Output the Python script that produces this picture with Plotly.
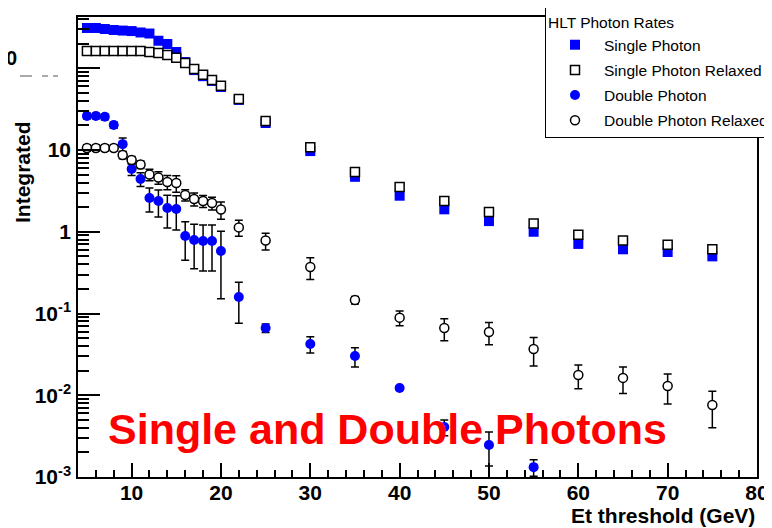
import plotly.graph_objects as go

# ---------------- data ----------------
x_single = [5, 6, 7, 8, 9, 10, 11, 12, 13, 14, 15, 16, 17, 18, 19, 20,
            22, 25, 30, 35, 40, 45, 50, 55, 60, 65, 70, 75]
single_photon = [311, 311, 302, 294, 289, 285, 274, 266, 217, 198, 158, 119, 95, 80, 70, 59,
                 41, 21.4, 9.7, 4.7, 2.76, 1.88, 1.35, 1.0, 0.71, 0.61, 0.565, 0.50]
single_relaxed = [163, 163, 163, 163, 163, 163, 163, 158, 154, 145, 134, 116, 98, 83, 72, 61,
                  42, 22.6, 10.8, 5.4, 3.53, 2.38, 1.74, 1.26, 0.92, 0.78, 0.695, 0.61]

x_double = [5, 6, 7, 8, 9, 10, 11, 12, 13, 14, 15, 16, 17, 18, 19, 20,
            22, 25, 30, 35, 40, 45, 50, 55]
double_photon = [26.1, 26.1, 25.5, 20.2, 11.8, 5.86, 4.42, 2.59, 2.38, 1.95, 1.90, 0.887,
                 0.793, 0.771, 0.771, 0.582, 0.159, 0.0665, 0.0424, 0.0302, 0.01227,
                 0.00409, 0.00246, 0.00132]
double_photon_err = [2.0, 2.0, 2.0, 1.8, 2.2, 1.0, 0.85, 0.85, 0.87, 0.84, 0.85, 0.44,
                     0.44, 0.44, 0.44, 0.43, 0.083, 0.008, 0.0095, 0.008, 0.0006,
                     0.0009, 0.0011, 0.0003]

x_double_relaxed = [5, 6, 7, 8, 9, 10, 11, 12, 13, 14, 15, 16, 17, 18, 19, 20,
                    22, 25, 30, 35, 40, 45, 50, 55, 60, 65, 70, 75]
double_relaxed = [10.6, 10.6, 10.6, 10.6, 8.69, 7.55, 6.65, 5.01, 4.61, 4.06, 3.95, 2.82,
                  2.52, 2.38, 2.25, 1.87, 1.13, 0.78, 0.37, 0.146, 0.089, 0.0665, 0.0594,
                  0.0368, 0.0177, 0.0163, 0.0130, 0.0076]
double_relaxed_err = [0.9, 0.9, 0.9, 0.9, 0.9, 0.8, 0.7, 0.8, 0.8, 0.8, 0.9, 0.45,
                      0.45, 0.4, 0.4, 0.45, 0.25, 0.18, 0.11, 0.015, 0.018, 0.02, 0.018,
                      0.014, 0.0057, 0.0058, 0.0052, 0.0036]

x_tickvals = [10, 20, 30, 40, 50, 60, 70, 80]
y_tickvals = [0.001, 0.01, 0.1, 1, 10, 100]
y_ticktext = ["10<sup>-3</sup>", "10<sup>-2</sup>", "10<sup>-1</sup>", "1", "10", ""]
y_minor = [m * 10.0 ** e for e in range(-3, 3) for m in range(2, 10)]

# ---------------- layout geometry ----------------
# The page body has an 8px default margin, so the figure is offset by (8, 8)
# in the browser window. Screen coordinates below are window pixels.
OFF = 8
SW, SH = 772, 528                 # window size
W, H = SW - OFF, SH - OFF         # figure size
L, R, T, B = 78, 757, 17, 477     # plot area in window pixels
FONT = "Liberation Sans, Arial, Helvetica, sans-serif"


def px(x):
    return (x - L) / (R - L)


def py(y):
    return (B - y) / (B - T)


fig = go.Figure()

fig.add_trace(go.Scatter(
    x=x_single, y=single_photon, mode="markers", name="Single Photon",
    legendgroup="g1",
    marker=dict(symbol="square", size=10, color="#0000ff", line=dict(width=0))))

fig.add_trace(go.Scatter(
    x=x_single, y=single_relaxed, mode="markers", name="Single Photon Relaxed",
    legendgroup="g2",
    marker=dict(symbol="square", size=9, color="white", line=dict(width=1.5, color="black"))))

fig.add_trace(go.Scatter(
    x=x_double, y=double_photon, mode="markers", name="Double Photon",
    legendgroup="g3",
    error_y=dict(type="data", array=double_photon_err, color="black", thickness=1.5, width=4),
    marker=dict(symbol="circle", size=10, color="#0000ff", line=dict(width=0))))

fig.add_trace(go.Scatter(
    x=x_double_relaxed, y=double_relaxed, mode="markers", name="Double Photon Relaxed",
    legendgroup="g4",
    error_y=dict(type="data", array=double_relaxed_err, color="black", thickness=1.5, width=4),
    marker=dict(symbol="circle", size=9, color="white", line=dict(width=1.5, color="black"))))

axis_font = dict(family=FONT, size=21, color="black", weight="bold")

fig.update_layout(
    width=W, height=H,
    margin=dict(l=L - OFF, r=SW - R, t=T - OFF, b=SH - B, pad=0, autoexpand=False),
    paper_bgcolor="white", plot_bgcolor="white",
    showlegend=True,
    xaxis=dict(
        range=[4, 80], showgrid=False, zeroline=False,
        showline=True, linecolor="black", linewidth=1.5, mirror=True,
        ticks="inside", ticklen=14, tickwidth=1.5, tickcolor="black",
        tickmode="array", tickvals=x_tickvals, tickfont=axis_font,
        ticklabelstandoff=-4,
        minor=dict(dtick=2, ticks="inside", ticklen=7, tickwidth=1.5, tickcolor="black",
                   showgrid=False),
    ),
    yaxis=dict(
        type="log", range=[-3, 2.627], showgrid=False, zeroline=False,
        showline=True, linecolor="black", linewidth=1.5, mirror=True,
        ticks="inside", ticklen=22, tickwidth=1.5, tickcolor="black",
        tickmode="array", tickvals=y_tickvals, ticktext=y_ticktext, tickfont=axis_font,
        ticklabelstandoff=1,
        minor=dict(tickmode="array", tickvals=y_minor, ticks="inside", ticklen=11,
                   tickwidth=1.5, tickcolor="black", showgrid=False),
    ),
    legend=dict(
        x=px(545), y=py(7), xanchor="left", yanchor="top",
        bgcolor="white", bordercolor="black", borderwidth=1,
        font=dict(family=FONT, size=15.5, color="black"),
        title=dict(text="HLT Photon Rates", font=dict(family=FONT, size=15.5, color="black")),
        itemwidth=48, tracegroupgap=2,
    ),
)

annotations = [
    dict(text="Integrated", x=px(22), y=py(172), xref="paper", yref="paper",
         textangle=-90, showarrow=False, xanchor="center", yanchor="middle",
         font=dict(family=FONT, size=21, color="black", weight="bold")),
    dict(text="Et threshold (GeV)", x=px(757), y=py(515), xref="paper", yref="paper",
         showarrow=False, xanchor="right", yanchor="middle",
         font=dict(family=FONT, size=21, color="black", weight="bold")),
    dict(text="Single and Double Photons", x=px(387), y=py(429), xref="paper", yref="paper",
         showarrow=False, xanchor="center", yanchor="middle",
         font=dict(family=FONT, size=43, color="#ff0000", weight="bold")),
    dict(text="50", x=px(19), y=py(58), xref="paper", yref="paper",
         showarrow=False, xanchor="right", yanchor="middle",
         font=dict(family=FONT, size=20, color="black", weight="bold")),
]
fig.update_layout(annotations=annotations)

shapes = [
    dict(type="line", xref="paper", yref="paper", x0=px(20), x1=px(32), y0=py(76), y1=py(76),
         line=dict(color="#555555", width=1)),
    dict(type="line", xref="paper", yref="paper", x0=px(42), x1=px(48), y0=py(76), y1=py(76),
         line=dict(color="#555555", width=1)),
    dict(type="line", xref="paper", yref="paper", x0=px(53), x1=px(58), y0=py(76), y1=py(76),
         line=dict(color="#555555", width=1)),
]
fig.update_layout(shapes=shapes)

fig.write_html("out.html")
